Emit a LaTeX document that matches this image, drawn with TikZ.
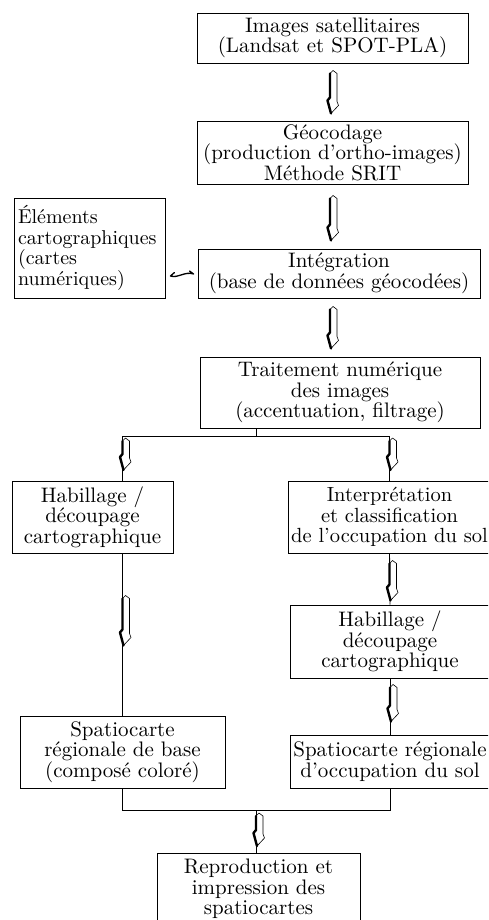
\documentclass[tikz,border=0pt]{standalone}
\usepackage{fontspec}
\setmainfont{lmroman10-regular.otf}
\usetikzlibrary{calc,arrows.meta}
\begin{document}
\begin{tikzpicture}[x=1pt,y=-1pt,
  box/.style={draw, line width=0.9pt, align=center, inner sep=0pt,
    font=\fontsize{21}{20.5}\selectfont},
  conn/.style={line width=0.9pt},
  pics/harrow/.style={code={
    \path[fill=white,draw=black,line width=0.6pt,line join=round]
      (0,3) -- (0,#1-16) -- (-2.5,#1-13) -- (1,#1) -- (8.5,#1-8) -- (7,#1-12) -- (7,3) -- (3,0) -- cycle;
    \draw[line width=2.4pt,line join=round,line cap=round]
      (0,3) -- (0,#1-16) -- (-2.5,#1-13) -- (1,#1);
  }}]
\useasboundingbox (0,0) rectangle (488,920);
\clip (0,0) rectangle (488,920);

\node[box, minimum width=271pt, minimum height=50pt] (b1) at (332.5,38)
  {Images satellitaires\\(Landsat et SPOT-PLA)};
\node[box, minimum width=271pt, minimum height=63pt] (b2) at (332.5,152.5)
  {Géocodage\\(production d’ortho-images)\\Méthode SRIT};
\node[box, align=left, text width=143pt, inner xsep=4pt, minimum height=100pt,
  font=\fontsize{20}{20.5}\selectfont] (el) at (89.5,248)
  {Éléments\\cartographiques\\(cartes\\numériques)};
\node[box, minimum width=282pt, minimum height=49pt] (b3) at (339,273.5)
  {Intégration\\(base de données géocodées)};
\node[box, minimum width=280pt, minimum height=71pt] (b4) at (340,392.5)
  {Traitement numérique\\des images\\(accentuation, filtrage)};
\node[box, minimum width=161pt, minimum height=72pt] (L1) at (92.5,517)
  {Habillage /\\découpage\\cartographique};
\node[box, minimum width=202pt, minimum height=72pt,
  font=\fontsize{20.5}{20.5}\selectfont] (R1) at (389.5,517)
  {Interprétation\\et classification\\de l’occupation du sol};
\node[box, minimum width=200pt, minimum height=73pt] (R2) at (390,641.5)
  {Habillage /\\découpage\\cartographique};
\node[box, minimum width=205pt, minimum height=72pt] (L2) at (122.5,752)
  {Spatiocarte\\régionale de base\\(composé coloré)};
\node[box, minimum width=200pt, minimum height=53pt] (R3) at (390,761.5)
  {Spatiocarte régionale\\d’occupation du sol};
\node[box, minimum width=203pt, minimum height=72pt] (R4) at (258.5,889)
  {Reproduction et\\impression des\\spatiocartes};

\coordinate (t) at (256,436);
\coordinate (u) at (256,810);
\coordinate (dl) at ($(el.east)+(5,28)$);
\coordinate (dr) at ($(b3.west)+(-4,0.5)$);

% main flow arrows
\pic at ($(b1.south)+(-2.5,7)$) {harrow=43};
\pic at ($(b2.south)+(-2.5,11)$) {harrow=45};
\pic at ($(b3.south)+(-9,8)$) {harrow=42};

% double arrow between the cartographic elements and the integration box
\draw[line width=1.3pt, line cap=round, line join=round]
  ($(dl)+(4,-3.5)$) -- (dl) .. controls ($(dl)+(8,2.5)$) and ($(dr)+(-9,-3)$) .. (dr) -- ($(dr)+(-4,-3)$);

% branch
\draw[conn] (b4.south -| t) -- (t);
\draw[conn] (L2.north |- t) -- (R1.north |- t);
\draw[conn] (L2.north |- t) -- (L1.north -| L2.north);
\draw[conn] (R1.north |- t) -- (R1.north);
\pic at ($(L2.north |- t)+(0,2)$) {harrow=32};
\pic at ($(R1.north |- t)+(0,2)$) {harrow=32};

% left column
\draw[conn] (L1.south -| L2.north) -- (L2.north);
\pic at ($(L1.south -| L2.north)+(0,42)$) {harrow=50};

% right column
\draw[conn] (R1.south) -- (R2.north);
\pic at ($(R1.south)+(0,7)$) {harrow=40};
\draw[conn] (R2.south) -- (R3.north);
\pic at ($(R2.south)+(0,6)$) {harrow=37};

% bottom join
\draw[conn] (L2.south) -- (L2.south |- u) -- (R3.south |- u) -- (R3.south);
\draw[conn] (u) -- (R4.north -| u);
\pic at ($(u)+(0,3)$) {harrow=33};
\end{tikzpicture}
\end{document}
